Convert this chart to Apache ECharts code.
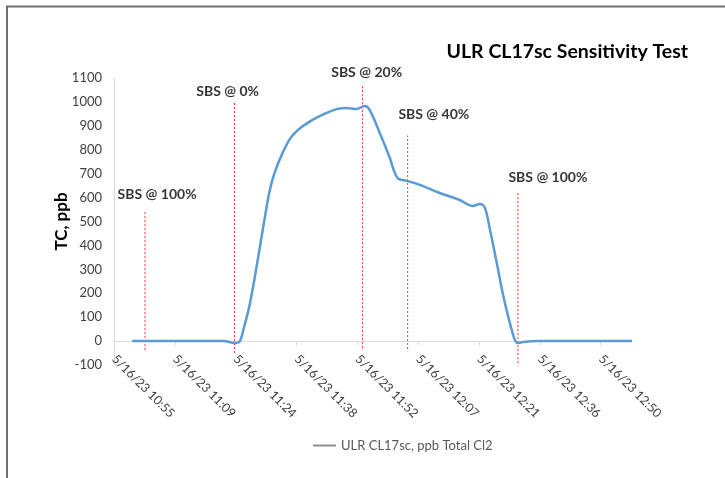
<!DOCTYPE html>
<html>
<head>
<meta charset="utf-8">
<script src="https://cdn.jsdelivr.net/npm/echarts@6/dist/echarts.min.js"></script>
<style>
  html, body { margin: 0; padding: 0; background: #fff; }
  #chart { width: 725px; height: 478px; }
</style>
</head>
<body>
<div id="chart"></div>
<script>
// time axis: minutes after 10:55:12 (ticks every 0.01 day = 14.4 min)
const startMinute = 655.2
const tickStep = 14.4
const axisEnd = 122.6

const tcTime = [4.3, 15.4, 26.1, 28.5, 29.7, 30.8, 32.0, 33.2, 34.4, 35.6, 36.8, 38.0, 39.9, 42.0, 44.4,
  47.0, 49.3, 52.7, 55.0, 57.4, 59.3, 60.5, 62.9, 65.2, 67.1, 69.3, 72.4, 77.1, 81.8, 84.9, 86.6,
  87.8, 89.0, 90.6, 92.0, 93.7, 94.9, 95.6, 96.8, 100.1, 122.6]
const tcValue = [0, 0, 0, -8, -3, 60, 143, 255, 380, 506, 625, 703, 787, 854, 895,
  925, 946, 970, 975, 970, 983, 967, 870, 770, 682, 670, 653, 619, 590, 565, 573,
  556, 464, 326, 200, 75, 4, -8, -4, 0, 0]

// SBS change markers
const sbsNames = ['SBS @ 100%', 'SBS @ 0%', 'SBS @ 20%', 'SBS @ 40%', 'SBS @ 100%']
const sbsTime = [7.35, 28.5, 58.8, 69.5, 95.6]
const sbsTop = [540, 995, 1070, 860, 620]
const sbsBottom = [-38, -50, -30, -33, -109]
const labelTime = [10.2, 26.9, 59.8, 75.7, 102.7]
const labelValue = [611, 1042, 1121, 946, 686]

const chart = echarts.init(document.getElementById('chart'))

const fmtTime = v => {
  const m = Math.floor(startMinute + v + 1e-6)
  const hh = Math.floor(m / 60)
  const mm = String(m % 60).padStart(2, '0')
  return '5/16/23 ' + hh + ':' + mm
}

const markerSeries = sbsTime.map((t, i) => ({
  name: 'marker' + i,
  type: 'line',
  data: [[t, sbsBottom[i]], [t, sbsTop[i]]],
  symbol: 'none',
  silent: true,
  lineStyle: { color: '#ff2a2a', width: 1, type: [2, 2] },
  z: 1
}))

const option = {
  animation: false,
  textStyle: { fontFamily: 'Lato' },
  title: {
    text: 'ULR CL17sc Sensitivity Test',
    right: 32,
    top: 37,
    textStyle: { fontSize: 19.5, fontWeight: 'bold', color: '#000', fontFamily: 'Lato' }
  },
  graphic: [{
    type: 'polyline',
    shape: { points: [[7, 478], [7, 6.5], [725, 6.5]] },
    style: { stroke: '#6e6e73', lineWidth: 2, fill: null }
  }],
  legend: {
    data: [{
      name: 'ULR CL17sc, ppb Total Cl2',
      itemStyle: { color: '#8c8c8c' },
      lineStyle: { color: '#8c8c8c' }
    }],
    top: 434,
    left: 308,
    icon: 'rect',
    itemWidth: 23,
    itemHeight: 2,
    itemGap: 3,
    textStyle: { fontSize: 13, color: '#595959', fontFamily: 'Lato' }
  },
  grid: { left: 114, right: 93, top: 78, bottom: 113 },
  xAxis: {
    type: 'value',
    min: 0,
    max: axisEnd,
    interval: tickStep,
    splitLine: { show: false },
    axisLine: { onZero: true, lineStyle: { color: '#d9d9d9' } },
    axisTick: { show: true, length: 4, lineStyle: { color: '#d9d9d9' } },
    axisLabel: {
      rotate: -45,
      fontSize: 12.5,
      color: '#404040',
      margin: -8,
      showMaxLabel: false,
      formatter: fmtTime
    }
  },
  yAxis: {
    type: 'value',
    min: -100,
    max: 1100,
    interval: 100,
    name: 'TC, ppb',
    nameLocation: 'middle',
    nameGap: 44,
    nameMoveOverlap: false,
    nameTextStyle: { fontSize: 17, fontWeight: 'bold', color: '#000' },
    splitLine: { show: false },
    axisLine: { show: true, lineStyle: { color: '#d9d9d9' } },
    axisTick: { show: false },
    axisLabel: { fontSize: 13, color: '#404040', margin: 12, formatter: v => String(v) }
  },
  series: [
    {
      name: 'ULR CL17sc, ppb Total Cl2',
      type: 'line',
      data: tcTime.map((t, i) => [t, tcValue[i]]),
      symbol: 'none',
      smooth: 0.35,
      lineStyle: { color: '#5b9bd5', width: 2.5 },
      itemStyle: { color: '#5b9bd5' },
      z: 3
    },
    ...markerSeries,
    {
      name: 'labels',
      type: 'scatter',
      clip: false,
      symbolSize: 0,
      silent: true,
      data: labelTime.map((t, i) => ({ value: [t, labelValue[i]], name: sbsNames[i] })),
      label: {
        show: true,
        position: 'inside',
        formatter: p => p.name,
        fontSize: 14,
        fontWeight: 'bold',
        color: '#000',
        fontFamily: 'Lato'
      }
    }
  ]
}

chart.setOption(option)
</script>
</body>
</html>
